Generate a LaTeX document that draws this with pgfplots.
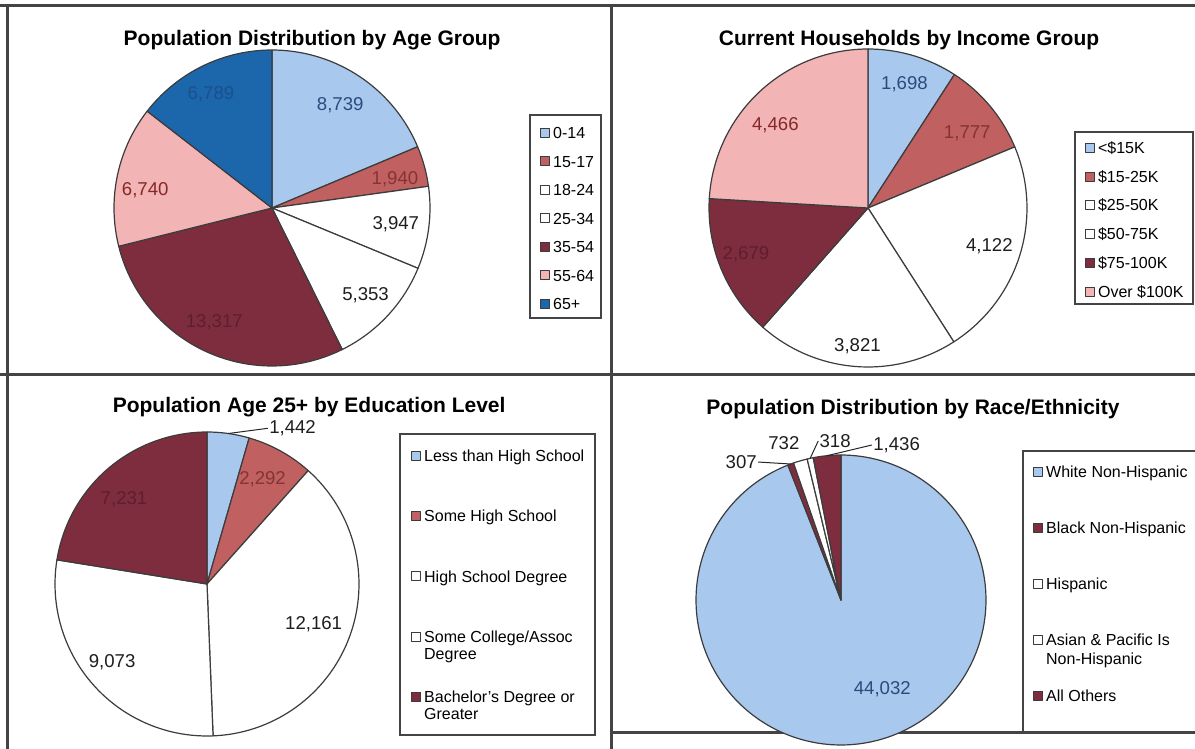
\documentclass[border=0pt]{standalone}
\usepackage{pgfplots}
\pgfplotsset{compat=1.18}
\usepackage{pgfplotstable}
\usepackage{fontspec}
\setmainfont{Liberation Sans}

% slice colours and label colours
\definecolor{cLB}{HTML}{A8C8EE}
\definecolor{cMR}{HTML}{C06060}
\definecolor{cMA}{HTML}{7D2D3E}
\definecolor{cPK}{HTML}{F2B4B4}
\definecolor{cDB}{HTML}{1C66AC}
\definecolor{tLB}{HTML}{2B4B7D}
\definecolor{tMR}{HTML}{843434}
\definecolor{tW}{HTML}{1E1E1E}
\definecolor{tMA}{HTML}{5F1E2D}
\definecolor{tPK}{HTML}{842828}
\definecolor{tDB}{HTML}{1A508C}
\definecolor{frame}{HTML}{444444}
\definecolor{edge}{HTML}{3C3C3C}

\newcommand\labelfont{\fontsize{9.3}{11}\selectfont}
\newcommand\titlefont{\bfseries\fontsize{10.5}{12.6}\selectfont}
\pgfkeys{/pgf/number format/.cd, fixed, precision=0, 1000 sep={,}, assume math mode=true}

% value, slice fill, label colour, label angle shift, label radius, anchor, leader line
\pgfplotstableread{
value fill text la lr anchor lead
8739  cLB tLB 0 0.78 center 0
1940  cMR tMR 2 0.80 center 0
3947  white tW 0 0.79 center 0
5353  white tW 0 0.81 center 0
13317 cMA tMA 2 0.81 center 0
6740  cPK tPK -4 0.81 center 0
6789  cDB tDB -2 0.82 center 0
}\agedata

\pgfplotstableread{
value fill text la lr anchor lead
1698 cLB tLB 0 0.81 center 0
1777 cMR tMR 3 0.78 center 0
4122 white tW 0 0.80 center 0
3821 white tW 0 0.87 center 0
2679 cMA tMA 2 0.82 center 0
4466 cPK tPK -5 0.78 center 0
}\incomedata

\pgfplotstableread{
value fill text la lr anchor lead
1442  cLB tW 13.3 1.10 west 1
2292  cMR tMR -1 0.78 center 0
12161 white tW 1 0.75 center 0
9073  white tW 2 0.81 center 0
7231  cMA tMA -4 0.78 center 0
}\educdata

\pgfplotstableread{
value fill text la lr anchor lead
44032 cLB tLB -14 0.68 center 0
307   cMA tW -10.7 1.11 east 1
732   white tW -4.7 1.10 south 0
318   white tW 4.1 1.108 west 1
1436  cMA tW 16.8 1.09 west 1
}\racedata

% draws the slices of one pie, clockwise from 12 o'clock
\newcommand\drawpie[1]{%
  \pgfplotstablegetrowsof{#1}%
  \edef\lastrow{\fpeval{\pgfplotsretval-1}}%
  \def\tot{0}%
  \pgfplotsforeachungrouped \ii in {0,...,\lastrow}{%
    \pgfplotstablegetelem{\ii}{value}\of{#1}%
    \edef\tot{\fpeval{\tot+\pgfplotsretval}}%
  }%
  \def\cum{0}%
  \pgfplotsforeachungrouped \ii in {0,...,\lastrow}{%
    \pgfplotstablegetelem{\ii}{value}\of{#1}\let\val\pgfplotsretval
    \pgfplotstablegetelem{\ii}{fill}\of{#1}\let\fc\pgfplotsretval
    \pgfplotstablegetelem{\ii}{text}\of{#1}\let\tc\pgfplotsretval
    \pgfplotstablegetelem{\ii}{la}\of{#1}\let\lshift\pgfplotsretval
    \pgfplotstablegetelem{\ii}{lr}\of{#1}\let\lrad\pgfplotsretval
    \pgfplotstablegetelem{\ii}{anchor}\of{#1}\let\anc\pgfplotsretval
    \pgfplotstablegetelem{\ii}{lead}\of{#1}\let\lead\pgfplotsretval
    \edef\sa{\cum}%
    \edef\sb{\fpeval{\cum+360*\val/\tot}}%
    \edef\mid{\fpeval{(\sa+\sb)/2}}%
    \edef\ns{\fpeval{max(3,ceil((\sb-\sa)/2)+1)}}%
    \edef\cmd{\noexpand\addplot[fill=\fc, draw=edge, line width=0.6pt, line join=round,
      domain=\sa:\sb, samples=\ns] ({sin(x)},{cos(x)}) -- (axis cs:0,0) -- cycle;}%
    \cmd
    \edef\lx{\fpeval{\lrad*sind(\mid+\lshift)}}%
    \edef\ly{\fpeval{\lrad*cosd(\mid+\lshift)}}%
    \edef\cmd{\noexpand\node[text=\tc, anchor=\anc, font=\noexpand\labelfont, inner sep=0.5pt]
      at (axis cs:\lx,\ly) {\noexpand\pgfmathprintnumber{\val}};}%
    \cmd
    \ifnum\lead=1
      \edef\px{\fpeval{sind(\mid)}}\edef\py{\fpeval{cosd(\mid)}}%
      \edef\cmd{\noexpand\draw[black!85, line width=0.5pt] (axis cs:\px,\py) -- (axis cs:\lx,\ly);}%
      \cmd
    \fi
    \let\cum\sb
  }%
}

\pgfplotsset{
  pie/.style={
    scale only axis, anchor=center,
    xmin=-1, xmax=1, ymin=-1, ymax=1,
    hide axis, clip=false,
    title style={anchor=center, yshift=-7pt, font=\titlefont},
    legend image code/.code={\draw[##1, draw=edge, line width=0.4pt] (0pt,0.6pt) rectangle (4.5pt,5.1pt);},
    legend style={draw=none, fill=none, inner sep=0pt, anchor=north west,
      font=\fontsize{8}{8.6}\selectfont, column sep=1.5pt,
      cells={anchor=base west},
      nodes={inner sep=0pt, text height=6pt, text depth=2pt}},
  },
}

\begin{document}
\begin{tikzpicture}
\useasboundingbox (0pt,0pt) rectangle (597.5pt,-374.5pt);
\begin{scope}[x=0.5pt, y=-0.5pt]
% panel frames
\draw[frame, line width=1.5pt] (0,6) -- (1195,6);
\draw[frame, line width=1.5pt] (7,6) -- (7,749);
\draw[frame, line width=1.5pt] (611,6) -- (611,749);
\draw[frame, line width=1.5pt] (0,374) -- (1195,374);
\draw[frame, line width=1.5pt] (611,732) -- (1195,732);
% legend boxes
\draw[frame, line width=0.7pt] (530,115) rectangle (601,318);
\draw[frame, line width=0.7pt] (1075,132) rectangle (1193,304);
\draw[frame, line width=0.7pt] (400,434) rectangle (595,735);
\draw[frame, line width=0.7pt] (1023,451) rectangle (1200,732);
\end{scope}

% age
\begin{axis}[pie, at={(136pt,-104pt)}, width=158pt, height=158pt,
  title={Population Distribution by Age Group},
  title style={at={(rel axis cs:0.627,1.038)}},
  legend style={at={(rel axis cs:1.348,0.759)}, row sep=6.25pt},
  legend entries={0-14,15-17,18-24,25-34,35-54,55-64,65+}]
\drawpie{\agedata}
\end{axis}

% income
\begin{axis}[pie, at={(434pt,-104pt)}, width=159pt, height=159pt,
  title={Current Households by Income Group},
  title style={at={(rel axis cs:0.629,1.035)}},
  legend style={at={(rel axis cs:1.182,0.711)}, row sep=6.4pt},
  legend entries={<\$15K,\$15-25K,\$25-50K,\$50-75K,\$75-100K,Over \$100K}]
\drawpie{\incomedata}
\end{axis}

% education
\begin{axis}[pie, at={(103.5pt,-292pt)}, width=152pt, height=152pt,
  title={Population Age 25+ by Education Level},
  title style={at={(rel axis cs:0.836,1.089)}},
  legend style={at={(rel axis cs:1.171,0.944)}, row sep=22.15pt},
  legend entries={Less than High School,Some High School,High School Degree,
    {\parbox[t]{40mm}{Some College/Assoc\\Degree}},
    {\parbox[t]{40mm}{Bachelor's Degree or\\Greater}}}]
\drawpie{\educdata}
\end{axis}

% race
\begin{axis}[pie, at={(420.5pt,-300pt)}, width=145pt, height=145pt,
  title={Population Distribution by Race/Ethnicity},
  title style={at={(rel axis cs:0.748,1.166)}},
  legend style={at={(rel axis cs:1.162,0.966)}, row sep=20pt},
  legend entries={White Non-Hispanic,Black Non-Hispanic,Hispanic,
    {\parbox[t]{40mm}{Asian \& Pacific Is\\[1pt]Non-Hispanic}},
    All Others}]
\drawpie{\racedata}
\end{axis}
\end{tikzpicture}
\end{document}
